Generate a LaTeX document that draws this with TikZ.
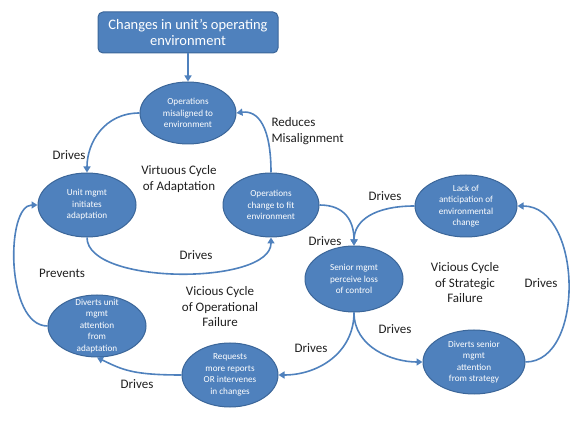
\documentclass[tikz,border=0pt]{standalone}
\usepackage{fontspec}
\setmainfont{Carlito}
\usetikzlibrary{shapes.geometric,arrows.meta}
\definecolor{fillblue}{HTML}{4F81BD}
\definecolor{edgeblue}{HTML}{3B6699}
\definecolor{linkblue}{HTML}{4F81BD}
\begin{document}
\begin{tikzpicture}[x=1pt,y=-1pt,
  oval/.style={ellipse, draw=edgeblue, line width=1pt, fill=fillblue, text=white,
    inner xsep=0pt, inner ysep=-10pt, align=center, font=\fontsize{9.2}{11.5}\selectfont},
  lbl/.style={align=center, text=black!88, font=\fontsize{13}{15.5}\selectfont},
  link/.style={draw=linkblue, line width=1.6pt, -{Triangle[length=6pt,width=7pt]}}]
\useasboundingbox (0,0) rectangle (584,438);
\node[draw=edgeblue, fill=fillblue, rounded corners=5pt, line width=1pt,
  minimum width=180pt, minimum height=41pt, text=white, align=center,
  font=\fontsize{14.5}{16.7}\selectfont] (top) at (188,32.5) {Changes in unit’s operating\\environment};

\node[oval, minimum width=96pt, minimum height=62pt] (e1) at (188,113) {Operations\\misaligned to\\environment};
\node[oval, minimum width=98pt, minimum height=64pt] (e2) at (87,205) {Unit mgmt\\initiates\\adaptation};
\node[oval, minimum width=96pt, minimum height=64pt] (e3) at (271,205) {Operations\\change to fit\\environment};
\node[oval, minimum width=102pt, minimum height=62pt] (e4) at (466,206) {Lack of\\anticipation of\\environmental\\change};
\node[oval, minimum width=98pt, minimum height=66pt] (e5) at (354,279) {Senior mgmt\\perceive loss\\of control};
\node[oval, minimum width=102pt, minimum height=64pt] (e6) at (474,362) {Diverts senior\\mgmt\\attention\\from strategy};
\node[oval, minimum width=96pt, minimum height=64pt] (e7) at (230,375) {Requests\\more reports\\OR intervenes\\in changes};
\node[oval, minimum width=98pt, minimum height=62pt] (e8) at (97,326) {Diverts unit\\mgmt\\attention\\from\\adaptation};

\node[lbl] (l1) at (69,155) {Drives};
\node[lbl] (l2) at (179,179) {Virtuous Cycle\\of Adaptation};
\node[lbl, align=left, anchor=west] (l3) at (268,131) {Reduces\\Misalignment};
\node[lbl] (l4) at (196,255) {Drives};
\node[lbl] (l5) at (62,273) {Prevents};
\node[lbl] (l6) at (220,307) {Vicious Cycle\\of Operational\\Failure};
\node[lbl] (l7) at (137,384) {Drives};
\node[lbl] (l8) at (311,348) {Drives};
\node[lbl] (l9) at (385,196) {Drives};
\node[lbl] (l10) at (325,241) {Drives};
\node[lbl] (l11) at (465,283) {Vicious Cycle\\of Strategic\\Failure};
\node[lbl] (l12) at (541,283) {Drives};
\node[lbl] (l13) at (395,329) {Drives};

\draw[link] (top.south) -- (e1.north);
\draw[link] (e1.west) .. controls +(-35,0) and +(0,-30) .. (e2.north);
\draw[link] (e2.south) .. controls +(0,48) and +(0,48) .. (e3.south);
\draw[link] (e3.north) .. controls +(0,-45) and +(22,-3) .. (e1.east);
\draw[link] (e3.east) .. controls +(25,0) and +(0,-25) .. (e5.north);
\draw[link] (e4.west) .. controls +(-40,0) and +(0,-25) .. (e5.north);
\draw[link] (e5.south) .. controls +(0,35) and +(-30,0) .. (e6.west);
\draw[link] (e6.east) .. controls +(60,0) and +(65,0) .. (e4.east);
\draw[link] (e5.south) .. controls +(0,40) and +(40,0) .. (e7.east);
\draw[link] (e7.west) .. controls +(-50,0) and +(25,12) .. (e8.south);
\draw[link] (e8.west) .. controls +(-42,0) and +(-32,0) .. (e2.west);
\end{tikzpicture}
\end{document}
